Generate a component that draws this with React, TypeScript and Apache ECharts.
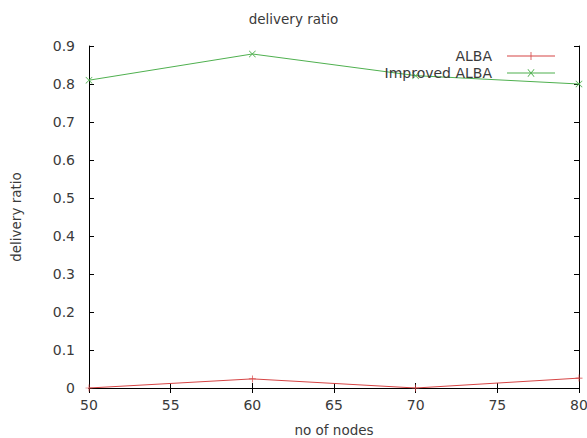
import React, { useEffect, useRef } from "react";
import * as echarts from "echarts";

const nodes = [50, 60, 70, 80];
const albaValues = [0.0, 0.024, 0.0, 0.026];
const improvedValues = [0.81, 0.879, 0.822, 0.8];
const xTicks = [50, 55, 60, 65, 70, 75, 80];
const yTicks = [0, 0.1, 0.2, 0.3, 0.4, 0.5, 0.6, 0.7, 0.8, 0.9];

const RED = "#d64545";
const GREEN = "#4fb04f";
const TEXT = "#3a3a3a";
const FONT = "DejaVu Sans";

const plusPath = "path://M0,4.5H10V5.5H0Z M4.5,0H5.5V10H4.5Z";
const crossPath = "path://M0,0.7L0.7,0L10,9.3L9.3,10Z M9.3,0L10,0.7L0.7,10L0,9.3Z";
const plusLegend = "path://M0,4.6H48V5.4H0Z M23.6,1H24.4V9H23.6Z";
const crossLegend = "path://M0,4.6H48V5.4H0Z M20.5,1.5L21.1,0.9L27.5,8.5L26.9,9.1Z M26.9,0.9L27.5,1.5L21.1,9.1L20.5,8.5Z";

export default function App() {
  const ref = useRef<HTMLDivElement>(null);
  useEffect(() => {
    if (!ref.current) return;
    const chart = echarts.init(ref.current, null, { renderer: "svg" });
    const axisLine = { show: true, lineStyle: { color: "#000", width: 1 } };
    const xBase = {
      type: "value" as const,
      min: 50,
      max: 80,
      interval: 5,
      axisLine,
      axisTick: { show: true, inside: true, length: 5, lineStyle: { color: "#000" } },
      splitLine: { show: false },
    };
    const yBase = {
      type: "value" as const,
      min: 0,
      max: 0.9,
      interval: 0.1,
      axisLine,
      axisTick: { show: true, inside: true, length: 5, lineStyle: { color: "#000" } },
      splitLine: { show: false },
    };
    chart.setOption({
      animation: false,
      backgroundColor: "#fff",
      title: {
        text: "delivery ratio",
        left: "center",
        top: 7,
        textStyle: { fontFamily: FONT, fontSize: 13.5, fontWeight: "normal", color: TEXT },
      },
      grid: { left: 89, right: 8, top: 46, bottom: 50, outerBoundsMode: "none", containLabel: false },
      legend: {
        orient: "vertical",
        right: 27,
        top: 44,
        align: "right",
        itemWidth: 48,
        itemHeight: 10,
        itemGap: 3,
        textStyle: { fontFamily: FONT, fontSize: 14, color: TEXT, padding: [0, 10, 0, 0] },
        data: [
          { name: "ALBA", icon: plusLegend },
          { name: "Improved ALBA", icon: crossLegend },
        ],
      },
      xAxis: [
        {
          ...xBase,
          name: "no of nodes",
          nameLocation: "middle",
          nameGap: 35,
          nameTextStyle: { fontFamily: FONT, fontSize: 13.5, color: TEXT, lineHeight: 14 },
          axisLabel: {
            fontFamily: FONT,
            fontSize: 14,
            color: TEXT,
            margin: 10,
            formatter: (v: number) => (xTicks.includes(v) ? String(v) : ""),
          },
        },
        { ...xBase, position: "top", axisLabel: { show: false } },
      ],
      yAxis: [
        {
          ...yBase,
          name: "delivery ratio",
          nameLocation: "middle",
          nameGap: 66,
          nameTextStyle: { fontFamily: FONT, fontSize: 13.5, color: TEXT },
          axisLabel: {
            fontFamily: FONT,
            fontSize: 14,
            color: TEXT,
            margin: 14,
            formatter: (v: number) => {
              const t = yTicks.find((y) => Math.abs(y - v) < 1e-6);
              return t === undefined ? "" : t === 0 ? "0" : t.toFixed(1);
            },
          },
        },
        { ...yBase, position: "right", axisLabel: { show: false } },
      ],
      series: [
        {
          name: "ALBA",
          type: "line",
          data: nodes.map((n, i) => [n, albaValues[i]]),
          symbol: plusPath,
          symbolSize: 7,
          showAllSymbol: true,
          lineStyle: { color: RED, width: 1 },
          itemStyle: { color: RED },
          z: 3,
        },
        {
          name: "Improved ALBA",
          type: "line",
          data: nodes.map((n, i) => [n, improvedValues[i]]),
          symbol: crossPath,
          symbolSize: 7,
          showAllSymbol: true,
          lineStyle: { color: GREEN, width: 1 },
          itemStyle: { color: GREEN },
          z: 3,
        },
      ],
    });
    return () => chart.dispose();
  }, []);
  return (
    <div
      ref={ref}
      style={{ position: "absolute", left: 0, top: 0, width: 587, height: 438 }}
    />
  );
}
